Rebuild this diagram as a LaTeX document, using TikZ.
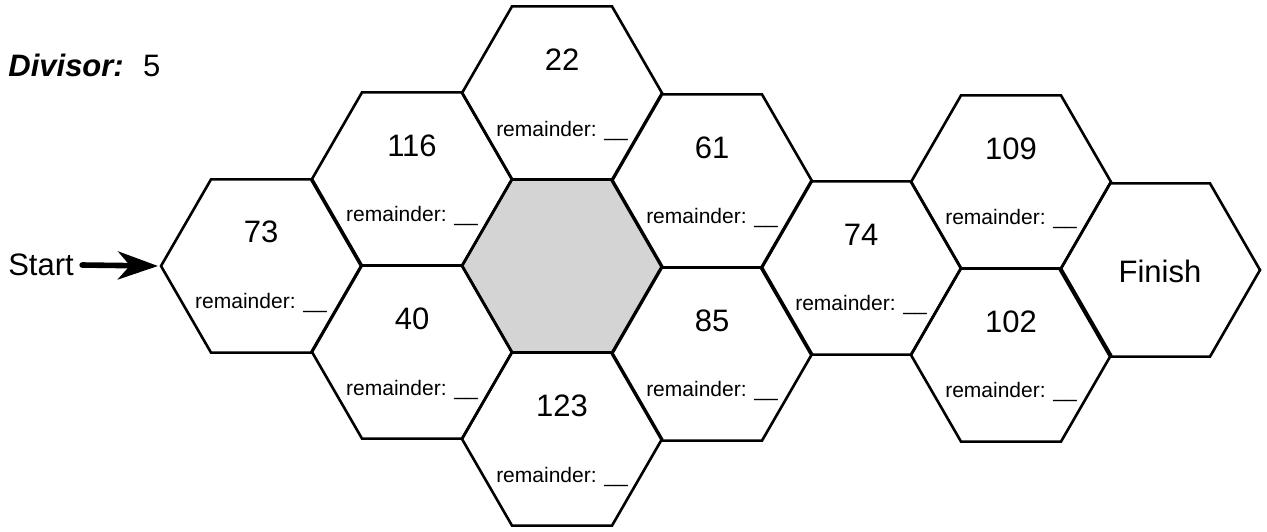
\documentclass[tikz,border=0pt]{standalone}
\usepackage{fontspec}
\setmainfont{Liberation Sans}
\usetikzlibrary{shapes.geometric, arrows.meta}

\begin{document}
\begin{tikzpicture}[
    x=0.5pt, y=-0.5pt,
    hexcell/.style={regular polygon, regular polygon sides=6, draw=black, line width=1.3pt, minimum size=100pt, inner sep=0pt, outer sep=0pt},
    blankcell/.style={hexcell, fill=black!17},
    num/.style={anchor=base, inner sep=0pt, font=\fontsize{15.5}{18}\selectfont},
    rem/.style={anchor=base, inner sep=0pt, font=\fontsize{10.5}{12}\selectfont},
    bigtext/.style={inner sep=0pt, font=\fontsize{15.5}{18}\selectfont},
    startarrow/.style={-{Stealth[length=20pt, width=14pt, inset=6pt]}, line width=2.8pt, line cap=round}
]
\useasboundingbox (0,0) rectangle (1267,531);

% HEADER
\node[bigtext, anchor=base west] (divisor) at (8,76) {\textbf{\textit{Divisor:}}\hspace{0.62em}5};

% HONEYCOMB (LEFT)
\node[blankcell] (cmid) at (562,266) {};
\node[hexcell] (c73) at (261,266) {};
\node[num] (c73n) at ([yshift=12pt]c73.center) {73};
\node[rem] (c73r) at ([yshift=-21pt]c73.center) {remainder: \_\_};

\node[hexcell] (c116) at (412,179) {};
\node[num] (c116n) at ([yshift=11.5pt]c116.center) {116};
\node[rem] (c116r) at ([yshift=-21pt]c116.center) {remainder: \_\_};

\node[hexcell] (c40) at (412,352) {};
\node[num] (c40n) at ([yshift=11.5pt]c40.center) {40};
\node[rem] (c40r) at ([yshift=-21.5pt]c40.center) {remainder: \_\_};

\node[hexcell] (c22) at (562,93) {};
\node[num] (c22n) at ([yshift=11.5pt]c22.center) {22};
\node[rem] (c22r) at ([yshift=-21.5pt]c22.center) {remainder: \_\_};

\node[hexcell] (c123) at (562,439) {};
\node[num] (c123n) at ([yshift=11.5pt]c123.center) {123};
\node[rem] (c123r) at ([yshift=-21.5pt]c123.center) {remainder: \_\_};

\node[hexcell] (c61) at (712,181) {};
\node[num] (c61n) at ([yshift=11.5pt]c61.center) {61};
\node[rem] (c61r) at ([yshift=-21pt]c61.center) {remainder: \_\_};

\node[hexcell] (c85) at (712,354) {};
\node[num] (c85n) at ([yshift=11.5pt]c85.center) {85};
\node[rem] (c85r) at ([yshift=-21pt]c85.center) {remainder: \_\_};

% HONEYCOMB (RIGHT)
\node[hexcell] (c74) at (861,268) {};
\node[num] (c74n) at ([yshift=11.5pt]c74.center) {74};
\node[rem] (c74r) at ([yshift=-21pt]c74.center) {remainder: \_\_};

\node[hexcell] (c109) at (1011,182) {};
\node[num] (c109n) at ([yshift=11.5pt]c109.center) {109};
\node[rem] (c109r) at ([yshift=-21pt]c109.center) {remainder: \_\_};

\node[hexcell] (c102) at (1011,355) {};
\node[num] (c102n) at ([yshift=11.5pt]c102.center) {102};
\node[rem] (c102r) at ([yshift=-21pt]c102.center) {remainder: \_\_};

\node[hexcell] (cfin) at (1160,270) {};
\node[num] (cfinn) at ([yshift=-6pt]cfin.center) {Finish};

% START
\node[bigtext] (start) at (41,265) {Start};
\draw[startarrow] ([xshift=4pt]start.east) -- ([xshift=-1.5pt]c73.west);

\end{tikzpicture}
\end{document}
